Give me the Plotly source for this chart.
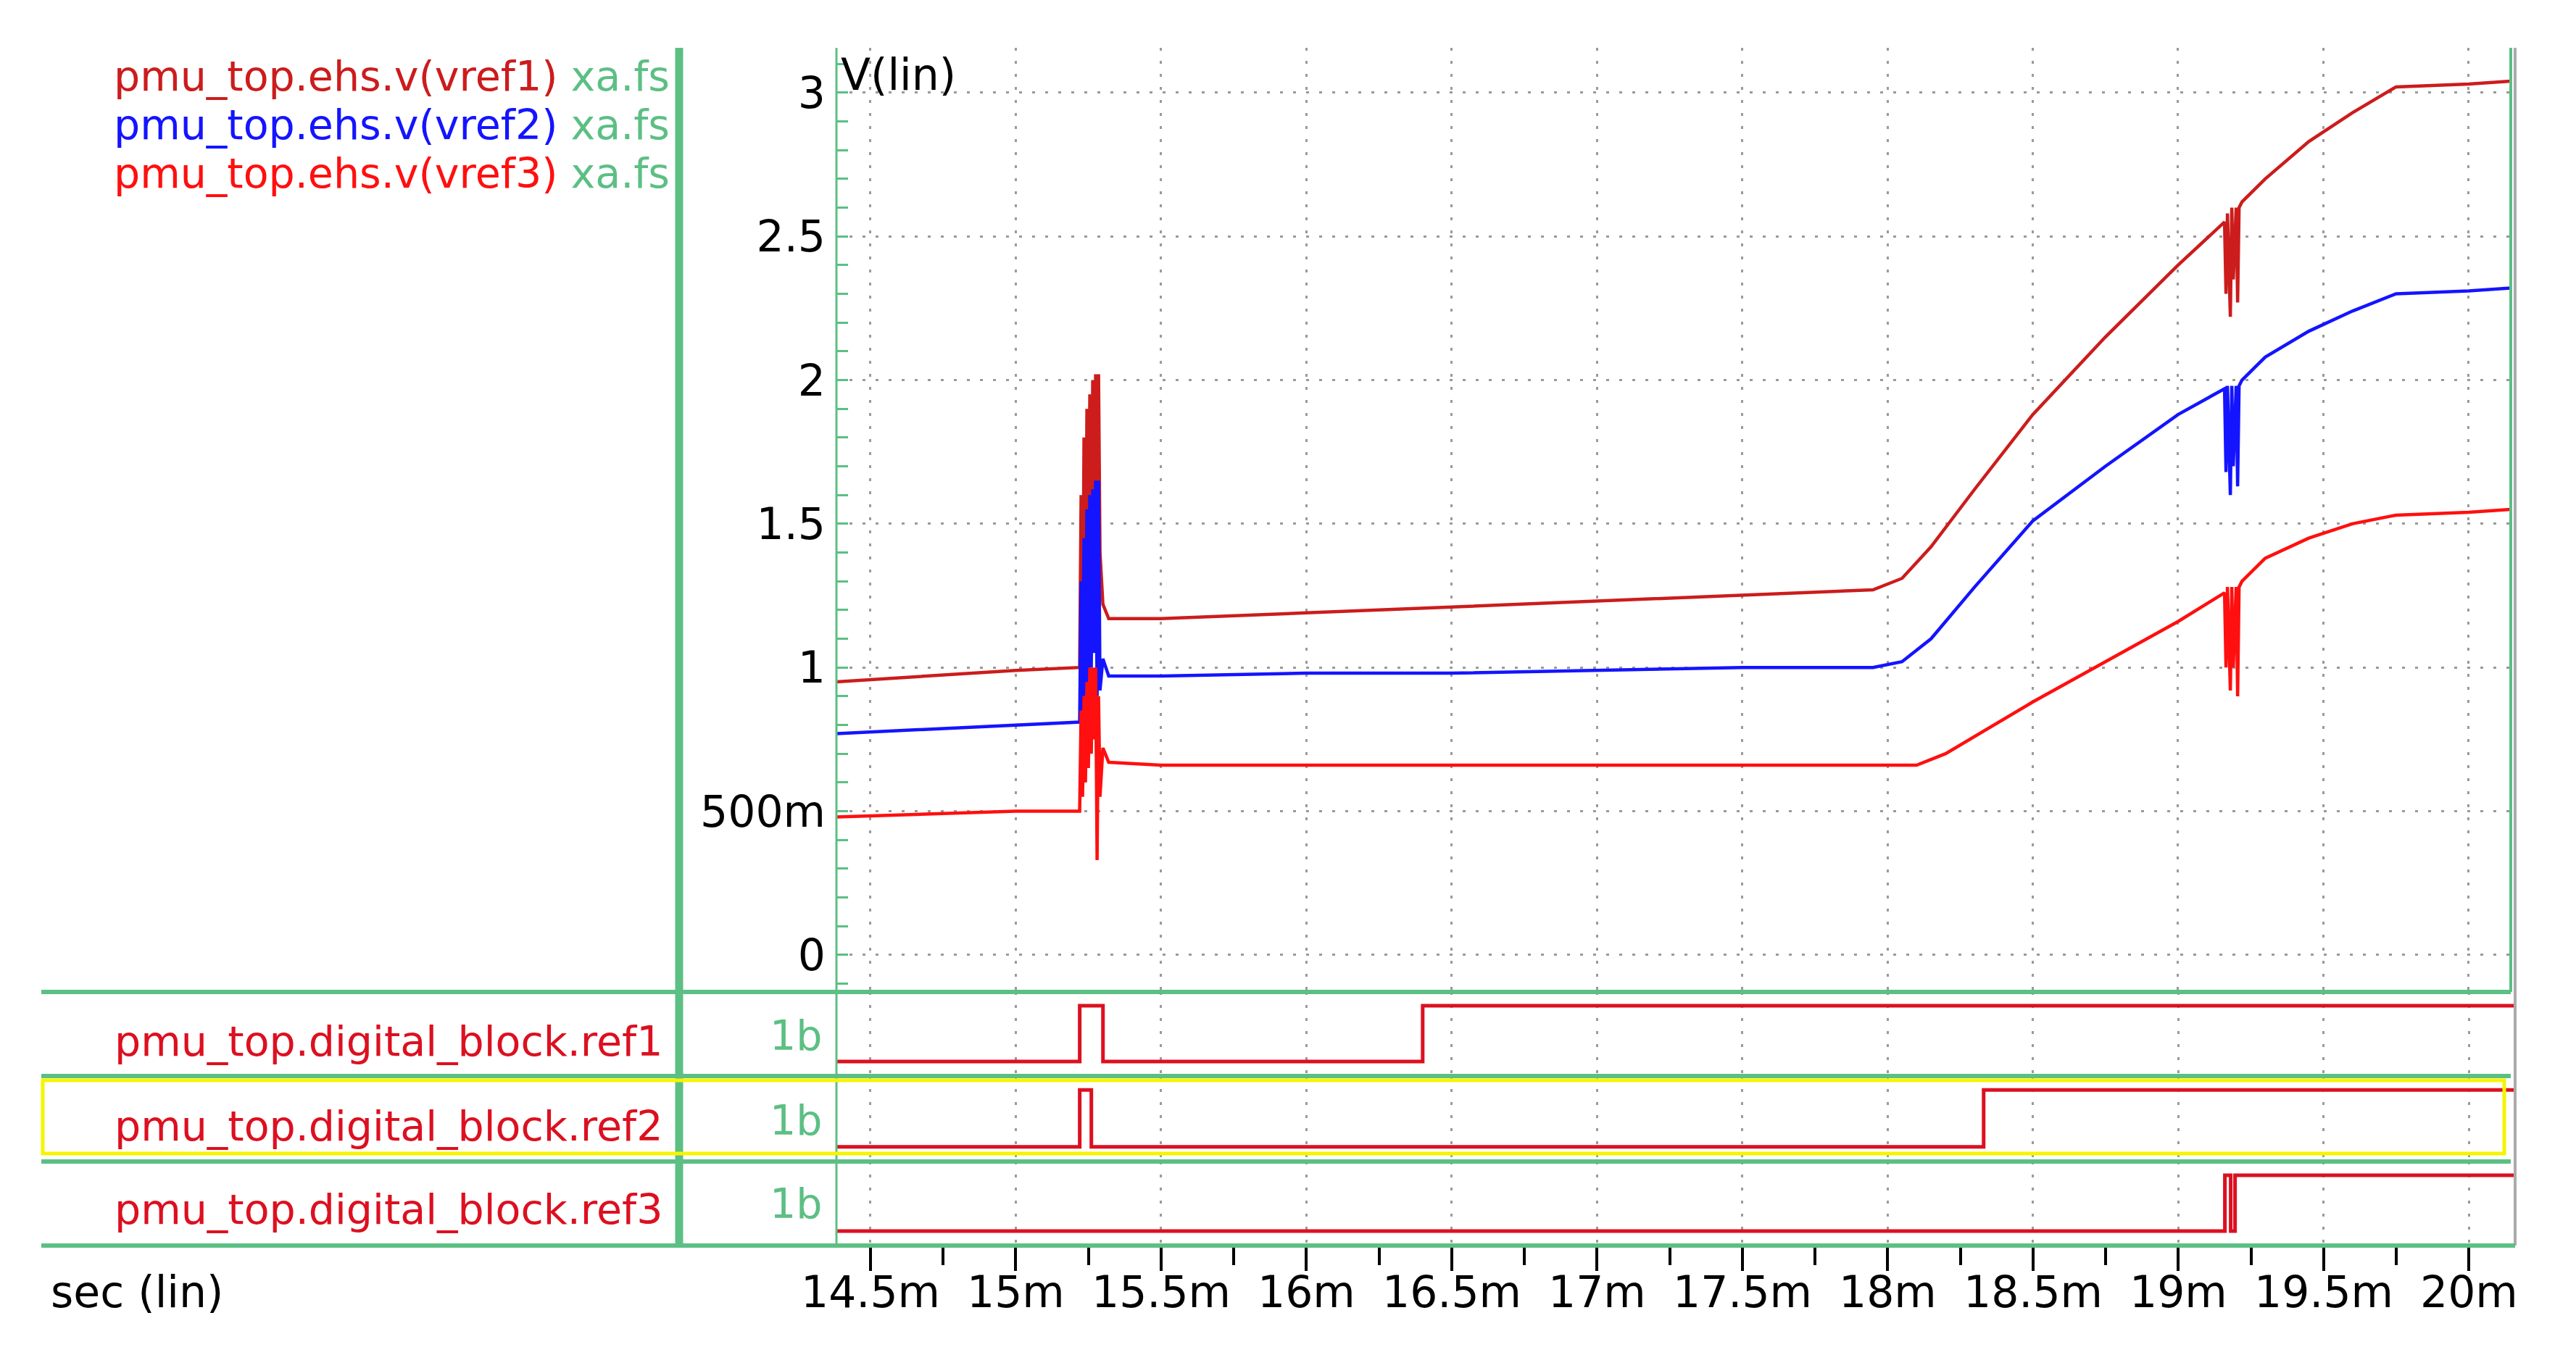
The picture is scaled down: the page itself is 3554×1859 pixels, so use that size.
import plotly.graph_objects as go

# ---------------- data (time in ms) ----------------
t1 = [14.383, 15.0, 15.22, 15.225, 15.23, 15.235, 15.24, 15.245, 15.25, 15.255, 15.26, 15.265, 15.27, 15.275, 15.28, 15.285, 15.29, 15.30, 15.32,
      15.5, 16.0, 16.5, 17.0, 17.5, 17.95, 18.05, 18.15, 18.3, 18.5, 18.75, 19.0, 19.16, 19.165, 19.17, 19.18, 19.185, 19.19, 19.2, 19.205, 19.21, 19.22,
      19.3, 19.45, 19.6, 19.75, 20.0, 20.145]
v1 = [0.95, 0.99, 1.0, 1.6, 1.0, 1.8, 1.1, 1.9, 1.2, 1.95, 1.25, 2.0, 1.3, 2.02, 1.35, 2.02, 1.4, 1.22, 1.17,
      1.17, 1.19, 1.21, 1.23, 1.25, 1.27, 1.31, 1.42, 1.62, 1.88, 2.15, 2.4, 2.55, 2.3, 2.58, 2.22, 2.6, 2.35, 2.6, 2.27, 2.6, 2.62,
      2.7, 2.83, 2.93, 3.02, 3.03, 3.04]

t2 = [14.383, 15.0, 15.22, 15.225, 15.23, 15.235, 15.24, 15.245, 15.25, 15.255, 15.26, 15.265, 15.27, 15.275, 15.28, 15.285, 15.29, 15.30, 15.32,
      15.5, 16.0, 16.5, 17.0, 17.5, 17.95, 18.05, 18.15, 18.3, 18.5, 18.75, 19.0, 19.16, 19.165, 19.17, 19.18, 19.185, 19.19, 19.2, 19.205, 19.21, 19.22,
      19.3, 19.45, 19.6, 19.75, 20.0, 20.145]
v2 = [0.77, 0.80, 0.81, 1.3, 0.85, 1.45, 0.9, 1.55, 0.95, 1.6, 1.0, 1.62, 1.05, 1.65, 0.9, 1.65, 0.92, 1.03, 0.97,
      0.97, 0.98, 0.98, 0.99, 1.0, 1.0, 1.02, 1.1, 1.28, 1.51, 1.7, 1.88, 1.97, 1.68, 1.98, 1.6, 1.98, 1.7, 1.98, 1.63, 1.98, 2.0,
      2.08, 2.17, 2.24, 2.3, 2.31, 2.32]

t3 = [14.383, 15.0, 15.2, 15.22, 15.225, 15.23, 15.235, 15.24, 15.245, 15.25, 15.255, 15.26, 15.265, 15.27, 15.275, 15.28, 15.285, 15.29, 15.30, 15.32,
      15.5, 16.0, 16.5, 17.0, 17.5, 18.0, 18.1, 18.2, 18.3, 18.5, 18.75, 19.0, 19.16, 19.165, 19.17, 19.18, 19.185, 19.19, 19.2, 19.205, 19.21, 19.22,
      19.3, 19.45, 19.6, 19.75, 20.0, 20.145]
v3 = [0.48, 0.50, 0.50, 0.5, 0.85, 0.55, 0.9, 0.6, 0.95, 0.65, 1.0, 0.7, 1.0, 0.75, 1.0, 0.33, 0.9, 0.55, 0.72, 0.67,
      0.66, 0.66, 0.66, 0.66, 0.66, 0.66, 0.66, 0.7, 0.76, 0.88, 1.02, 1.16, 1.26, 1.0, 1.28, 0.92, 1.28, 1.0, 1.28, 0.9, 1.28, 1.3,
      1.38, 1.45, 1.5, 1.53, 1.54, 1.55]

d1_t = [14.383, 15.22, 15.27, 15.275, 15.30, 16.4, 20.16]
d1_v = [0, 1, 1, 1, 0, 1, 1]
d2_t = [14.383, 15.22, 15.26, 18.33, 20.16]
d2_v = [0, 1, 0, 1, 1]
d3_t = [14.383, 19.16, 19.18, 19.195, 20.16]
d3_v = [0, 1, 0, 1, 1]

names = ["pmu_top.ehs.v(vref1)", "pmu_top.ehs.v(vref2)", "pmu_top.ehs.v(vref3)"]
dnames = ["pmu_top.digital_block.ref1", "pmu_top.digital_block.ref2", "pmu_top.digital_block.ref3"]
xticks = [14.5, 15, 15.5, 16, 16.5, 17, 17.5, 18, 18.5, 19, 19.5, 20]
xticklabels = ["14.5m", "15m", "15.5m", "16m", "16.5m", "17m", "17.5m", "18m", "18.5m", "19m", "19.5m", "20m"]
yticks = [0, 0.5, 1, 1.5, 2, 2.5, 3]
yticklabels = ["0", "500m", "1", "1.5", "2", "2.5", "3"]

# ---------------- layout helpers (actual pixels) ----------------
W, H = 3554.0, 1859.0
def px(x): return x / W
def py(y): return 1 - y / H

C1, C2, C3 = "#cc1c1c", "#1414ff", "#ff0f0f"
CD = "#dc1020"
GREEN = "#5cbf84"
FONT = "DejaVu Sans"
FS = 57
TFS = 60
xr = [14.383, 20.145]
GRID = dict(showgrid=True, gridcolor="#9a9a9a", griddash="4px,14px", gridwidth=3)

fig = go.Figure()
fig.add_trace(go.Scatter(x=t1, y=v1, mode="lines", line=dict(color=C1, width=4.5), xaxis="x", yaxis="y"))
fig.add_trace(go.Scatter(x=t2, y=v2, mode="lines", line=dict(color=C2, width=4.5), xaxis="x", yaxis="y"))
fig.add_trace(go.Scatter(x=t3, y=v3, mode="lines", line=dict(color=C3, width=4.5), xaxis="x", yaxis="y"))
for i, (tt, vv) in enumerate([(d1_t, d1_v), (d2_t, d2_v), (d3_t, d3_v)]):
    fig.add_trace(go.Scatter(x=tt, y=vv, mode="lines", line=dict(color=CD, width=5, shape="hv"),
                             xaxis="x%d" % (i + 2), yaxis="y%d" % (i + 2), cliponaxis=False))

xd = [px(1146), px(3456)]
xd_d = [px(1146), px(3462)]
xr_dd = [14.383, 14.383 + (3462 - 1146) / 401.0]
common_x = dict(range=xr_dd, domain=xd_d, tickvals=xticks, showticklabels=False, ticks="", zeroline=False, **GRID)
fig.update_layout(
    width=3554, height=1859, margin=dict(l=0, r=0, t=0, b=0),
    paper_bgcolor="white", plot_bgcolor="white", showlegend=False,
    font=dict(family=FONT, size=FS, color="black"),
    xaxis=dict(range=xr, domain=xd, tickvals=xticks, showticklabels=False, zeroline=False, anchor="y", ticks="", **GRID),
    yaxis=dict(range=[-0.129, 3.156], domain=[py(1361), py(58)], tickvals=yticks, ticktext=yticklabels,
               zeroline=False, ticks="inside", ticklen=16, tickwidth=3, tickcolor=GREEN, anchor="x",
               ticklabelstandoff=14,
               minor=dict(dtick=0.1, ticks="inside", ticklen=16, tickwidth=3, tickcolor=GREEN, showgrid=False),
               tickfont=dict(size=TFS), **GRID),
    xaxis2=dict(common_x, anchor="y2"),
    xaxis3=dict(common_x, anchor="y3"),
    xaxis4=dict(range=xr_dd, domain=xd_d, anchor="y4", tickvals=xticks, showticklabels=False,
                ticks="outside", ticklen=34, tickwidth=4, tickcolor="black", zeroline=False,
                minor=dict(dtick=0.25, ticks="outside", ticklen=26, tickwidth=4, tickcolor="black", showgrid=False),
                **GRID),
    yaxis2=dict(range=[-0.26, 1.247], domain=[py(1477), py(1361)], visible=False, anchor="x2"),
    yaxis3=dict(range=[-0.26, 1.247], domain=[py(1595), py(1477)], visible=False, anchor="x3"),
    yaxis4=dict(range=[-0.26, 1.247], domain=[py(1711), py(1595)], visible=False, anchor="x4"),
)

shapes = []
def line(x0, y0, x1, y1, color=GREEN, w=5):
    shapes.append(dict(type="line", xref="paper", yref="paper", x0=px(x0), y0=py(y0), x1=px(x1), y1=py(y1),
                       line=dict(color=color, width=w)))
line(929, 58, 929, 1711, w=11)
line(1146, 58, 1146, 1711, w=3)
line(3456, 58, 3456, 1361, w=4)
line(3462, 58, 3462, 1711, color="#aaaaaa", w=4)
for yy in [1361, 1477, 1595, 1711]:
    line(49, yy, 3462 if yy == 1711 else 3456, yy, w=6)
shapes.append(dict(type="rect", xref="paper", yref="paper", x0=px(51), y0=py(1584), x1=px(3447), y1=py(1483),
                   line=dict(color="#f5f500", width=5)))
fig.update_layout(shapes=shapes)

ann = []
for i, (n, c) in enumerate(zip(names, [C1, C2, C3])):
    ann.append(dict(xref="paper", yref="paper", x=px(918), y=py(97 + 67 * i), xanchor="right", yanchor="middle",
                    showarrow=False, font=dict(size=FS),
                    text='<span style="color:%s">%s</span> <span style="color:%s">xa.fs</span>' % (c, n, GREEN)))
for i, n in enumerate(dnames):
    yc = [1429, 1546, 1661][i]
    ann.append(dict(xref="paper", yref="paper", x=px(908), y=py(yc), xanchor="right", yanchor="middle",
                    showarrow=False, text=n, font=dict(color=CD, size=FS)))
    ann.append(dict(xref="paper", yref="paper", x=px(1128), y=py(yc - 8), xanchor="right", yanchor="middle",
                    showarrow=False, text="1b", font=dict(color=GREEN, size=FS)))
for tv, tl in zip(xticks, xticklabels):
    ann.append(dict(xref="x4", yref="paper", x=tv, y=py(1775), xanchor="center", yanchor="middle",
                    showarrow=False, text=tl, font=dict(size=TFS)))
ann.append(dict(xref="paper", yref="paper", x=px(1150), y=py(95), xanchor="left", yanchor="middle",
                showarrow=False, text="V(lin)", font=dict(size=TFS)))
ann.append(dict(xref="paper", yref="paper", x=px(60), y=py(1775), xanchor="left", yanchor="middle",
                showarrow=False, text="sec (lin)", font=dict(size=TFS)))
fig.update_layout(annotations=ann)

fig.write_html("out.html")
